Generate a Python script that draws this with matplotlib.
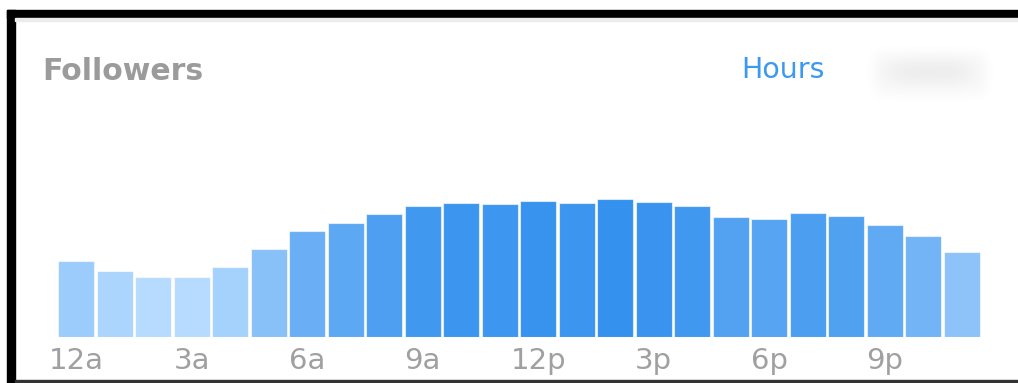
import numpy as np
import matplotlib
matplotlib.use("Agg")
import matplotlib.pyplot as plt
from matplotlib.patches import Rectangle
from matplotlib.colors import to_rgb

# followers online per hour (relative)
hours = list(range(24))
followers = [76, 66, 60, 60, 70, 88, 106, 114, 123, 131, 134, 133,
             136, 134, 138, 135, 131, 120, 118, 124, 121, 112, 101, 85]
tick_pos = [0, 3, 6, 9, 12, 15, 18, 21]
tick_labels = ["12a", "3a", "6a", "9a", "12p", "3p", "6p", "9p"]

W, H = 1018, 383
fig = plt.figure(figsize=(W / 100, H / 100), dpi=100)
fig.patch.set_facecolor("white")

# bar colours go from light to dark blue with the value
light = np.array(to_rgb("#b6dbfe"))
dark = np.array(to_rgb("#3591ee"))
v = np.array(followers, dtype=float)
t = (v - v.min()) / (v.max() - v.min())
colors = [tuple(light + (dark - light) * k) for k in t]

x0, x1 = 57, 981
base, top = 336.5, 180
ax = fig.add_axes([x0 / W, 1 - base / H, (x1 - x0) / W, (base - top) / H])
ax.bar(hours, followers, width=0.93, color=colors,
       edgecolor=(1, 1, 1, 0.6), linewidth=0.8)
ax.set_xlim(-0.5, 23.5)
ax.set_ylim(0, base - top)
ax.axis("off")

# frame, titles and labels in pixel coordinates
ov = fig.add_axes([0, 0, 1, 1], zorder=-1)
ov.set_xlim(0, W)
ov.set_ylim(H, 0)
ov.axis("off")
ov.add_patch(Rectangle((7, 10), W - 7, 8, color="black"))
ov.add_patch(Rectangle((7, 10), 8, H - 10, color="black"))
ov.add_patch(Rectangle((15, 18), W - 15, 2.5, color="#ececec"))
ov.add_patch(Rectangle((15, 380), W - 15, 2, color="#333333"))

ov.text(42, 72, "Followers", fontsize=21.5, fontweight="bold", color="#9b9b9b",
        family="DejaVu Sans", va="center", ha="left")
ov.text(783, 70, "Hours", fontsize=20.5, color="#3b99ef",
        family="DejaVu Sans", va="center", ha="center")

for p, lab in zip(tick_pos, tick_labels):
    px = x0 + (p + 0.5) * (x1 - x0) / 24
    ov.text(px, 361, lab, fontsize=21, color="#a0a0a0",
            family="DejaVu Sans", va="center", ha="center")

# blurred period selector
gx = np.linspace(866, 994, 128)
gy = np.linspace(46, 102, 56)
X, Y = np.meshgrid(gx, gy)

def ramp(a, lo, hi, s):
    return 1 / (1 + np.exp(-(a - lo) / s)) * 1 / (1 + np.exp((a - hi) / s))

box = ramp(X, 874, 986, 2.5) * ramp(Y, 52, 96, 2.5)
core = ramp(X, 888, 972, 8.0) * ramp(Y, 62, 82, 5.0)
alpha = np.clip(0.03 * box + 0.1 * core, 0, 1)
img = np.zeros(X.shape + (4,))
img[..., :3] = 0.35
img[..., 3] = alpha
ov.imshow(img, extent=(866, 994, 102, 46), interpolation="bilinear",
          aspect="auto", zorder=1)
ov.set_xlim(0, W)
ov.set_ylim(H, 0)

fig.savefig("out.png", dpi=100)
